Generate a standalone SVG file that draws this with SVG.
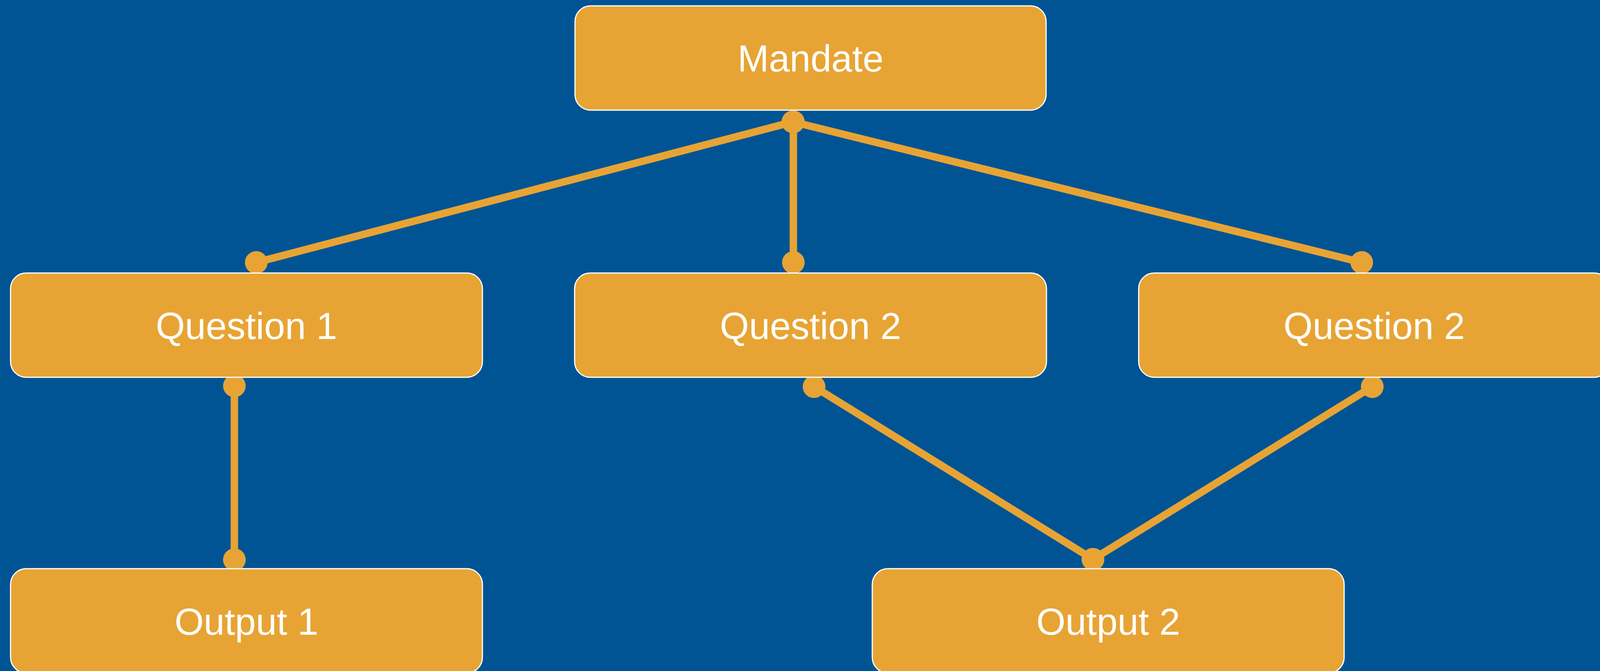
<svg xmlns="http://www.w3.org/2000/svg" width="4122" height="1718" viewBox="0 0 4122 1718">
  <style>
    .box { fill: #E7A434; stroke: #FFFFFF; stroke-width: 3; }
    .label { font-family: "Liberation Sans", Arial, sans-serif; font-size: 96px; fill: #FFFFFF; text-anchor: middle; }
    .conn { stroke: #E7A434; stroke-width: 19; fill: none; marker-start: url(#dot); marker-end: url(#dot); }
  </style>
  <defs>
    <marker id="dot" markerUnits="userSpaceOnUse" markerWidth="60" markerHeight="60" refX="30" refY="30" orient="auto">
      <circle cx="30" cy="30" r="29" fill="#E7A434"/>
    </marker>
  </defs>
  <rect x="0" y="0" width="4122" height="1718" fill="#015494"/>
  <g id="connectors">
    <line class="conn" x1="2030" y1="312" x2="656" y2="672"/>
    <line class="conn" x1="2031" y1="312" x2="2031" y2="672"/>
    <line class="conn" x1="2030" y1="312" x2="3486" y2="672"/>
    <line class="conn" x1="600" y1="988" x2="600" y2="1433"/>
    <line class="conn" x1="2084" y1="990" x2="2798" y2="1432"/>
    <line class="conn" x1="3513" y1="990" x2="2798" y2="1432"/>
  </g>
  <g id="mandate">
    <rect class="box" x="1472" y="15" width="1206" height="267" rx="40" ry="40"/>
    <text class="label" x="2075" y="183">Mandate</text>
  </g>
  <g id="question1">
    <rect class="box" x="27" y="699" width="1208" height="267" rx="40" ry="40"/>
    <text class="label" x="631" y="868">Question 1</text>
  </g>
  <g id="question2a">
    <rect class="box" x="1471" y="699" width="1208" height="267" rx="40" ry="40"/>
    <text class="label" x="2075" y="868">Question 2</text>
  </g>
  <g id="question2b">
    <rect class="box" x="2915" y="699" width="1206" height="267" rx="40" ry="40"/>
    <text class="label" x="3518" y="868">Question 2</text>
  </g>
  <g id="output1">
    <rect class="box" x="27" y="1456" width="1208" height="267" rx="40" ry="40"/>
    <text class="label" x="631" y="1625">Output 1</text>
  </g>
  <g id="output2">
    <rect class="box" x="2233" y="1456" width="1208" height="267" rx="40" ry="40"/>
    <text class="label" x="2837" y="1625">Output 2</text>
  </g>
</svg>
